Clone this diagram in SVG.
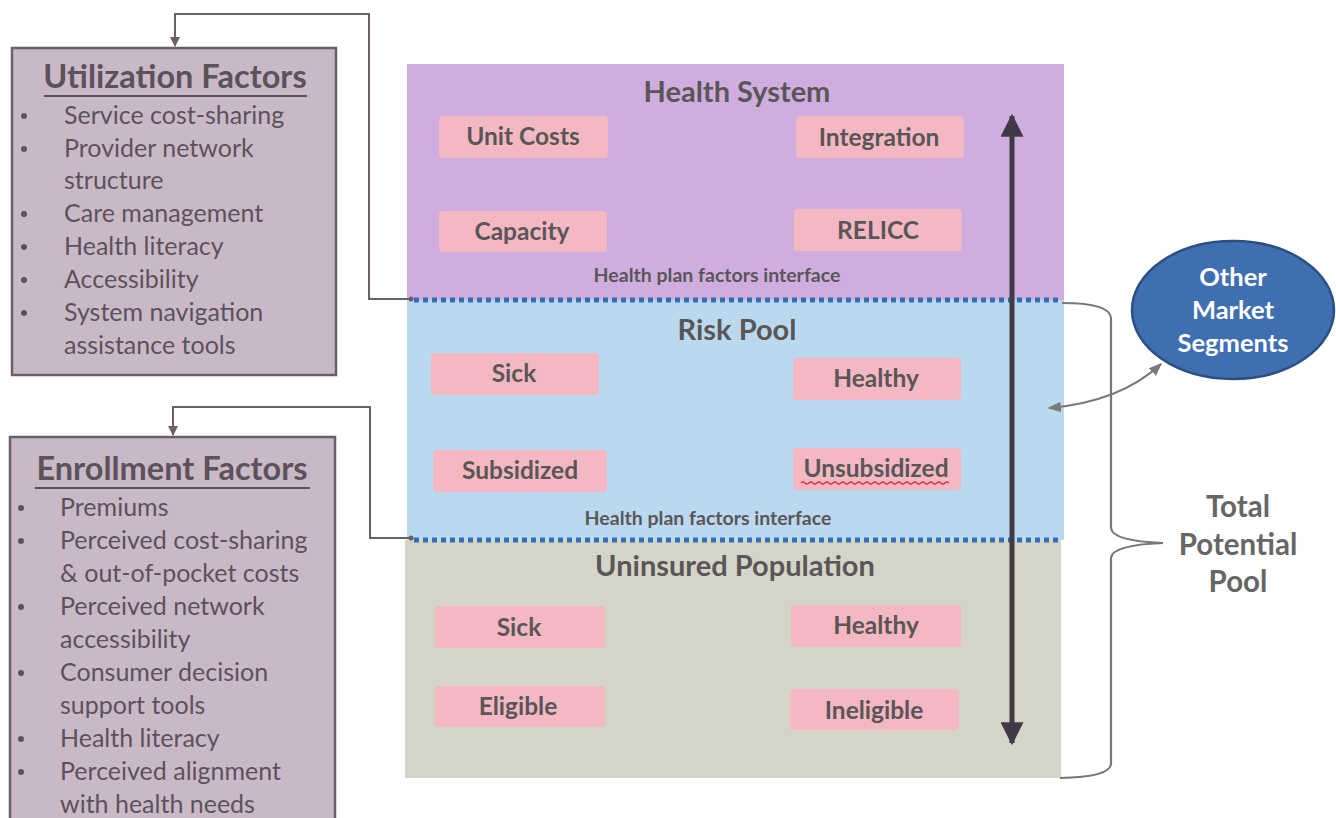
<svg xmlns="http://www.w3.org/2000/svg" width="1336" height="818" viewBox="0 0 1336 818">
<defs>
<style>
text{font-family:Lato,"Open Sans","Liberation Sans",sans-serif;}
.box{fill:#c9b9c7;stroke:#6b6068;stroke-width:2.5;}
.ttl{font-size:32.5px;font-weight:bold;fill:#5c525b;}
.itm{font-size:25px;fill:#5c525b;}
.bul{fill:#5c525b;}
.pnl-t{font-size:29px;font-weight:bold;fill:#5a5658;text-anchor:middle;}
.pk{fill:#f3b8c2;}
.pk-t{font-size:24.5px;font-weight:bold;fill:#5a5658;text-anchor:middle;}
.ifc{font-size:19.5px;font-weight:bold;fill:#5a5658;text-anchor:middle;}
.dot{stroke:#356db5;stroke-width:5;stroke-dasharray:5 4;fill:none;}
.conn{stroke:#6b6068;stroke-width:2;fill:none;}
.tot{font-size:29.5px;font-weight:bold;fill:#666;text-anchor:middle;}
.oms{font-size:25.5px;font-weight:bold;fill:#fff;text-anchor:middle;}
</style>
<marker id="ah" viewBox="0 0 10 10" refX="9" refY="5" markerWidth="5" markerHeight="5" orient="auto-start-reverse"><path d="M0,0 L10,5 L0,10 z" fill="#6b6068"/></marker>
<marker id="big" viewBox="0 0 10 10" refX="9" refY="5" markerWidth="5.2" markerHeight="4.6" orient="auto-start-reverse"><path d="M0,0 L10,5 L0,10 z" fill="#3f3a45"/></marker>
<marker id="ga" viewBox="0 0 10 10" refX="9" refY="5" markerWidth="6" markerHeight="6" orient="auto-start-reverse"><path d="M0,1 L10,5 L0,9 z" fill="#7a7a7a"/></marker>
</defs>

<g id="panels">
<rect x="407" y="64" width="657" height="236" fill="#cfaedf"/>
<rect x="407" y="300" width="657" height="240" fill="#bad9ef"/>
<rect x="405" y="540" width="656" height="238" fill="#d5d5c7"/>
</g>

<g id="health-system">
<text class="pnl-t" x="737" y="102">Health System</text>
</g>
<g id="unit-costs"><rect class="pk" x="439" y="116" width="169" height="42" rx="4"/><text class="pk-t" x="523" y="145">Unit Costs</text></g>
<g id="integration"><rect class="pk" x="796" y="116" width="168" height="42" rx="4"/><text class="pk-t" x="879" y="146">Integration</text></g>
<g id="capacity"><rect class="pk" x="439" y="211" width="168" height="41" rx="4"/><text class="pk-t" x="522" y="240">Capacity</text></g>
<g id="relicc"><rect class="pk" x="794" y="209" width="168" height="42" rx="4"/><text class="pk-t" x="878" y="239">RELICC</text></g>
<text class="ifc" x="717" y="282">Health plan factors interface</text>

<g id="risk-pool"><text class="pnl-t" x="737" y="340">Risk Pool</text></g>
<g id="rp-sick"><rect class="pk" x="431" y="353" width="168" height="42" rx="4"/><text class="pk-t" x="514" y="382">Sick</text></g>
<g id="rp-healthy"><rect class="pk" x="793" y="358" width="168" height="42" rx="4"/><text class="pk-t" x="876" y="387">Healthy</text></g>
<g id="subsidized"><rect class="pk" x="433" y="450" width="174" height="42" rx="4"/><text class="pk-t" x="520" y="479">Subsidized</text></g>
<g id="unsubsidized"><rect class="pk" x="793" y="448" width="168" height="42" rx="4"/><text class="pk-t" x="876" y="477">Unsubsidized</text><path d="M801,483 q2,-2 4,0 t4,0 t4,0 t4,0 t4,0 t4,0 t4,0 t4,0 t4,0 t4,0 t4,0 t4,0 t4,0 t4,0 t4,0 t4,0 t4,0 t4,0 t4,0 t4,0 t4,0 t4,0 t4,0 t4,0 t4,0 t4,0 t4,0 t4,0 t4,0 t4,0 t4,0 t4,0 t4,0 t4,0 t4,0 t4,0 t4,0" stroke="#d8343f" stroke-width="1.2" fill="none"/></g>
<text class="ifc" x="708" y="525">Health plan factors interface</text>

<g id="uninsured"><text class="pnl-t" x="735" y="576">Uninsured Population</text></g>
<g id="un-sick"><rect class="pk" x="435" y="606" width="170" height="42" rx="4"/><text class="pk-t" x="519" y="636">Sick</text></g>
<g id="un-healthy"><rect class="pk" x="791" y="605" width="170" height="42" rx="4"/><text class="pk-t" x="876" y="634">Healthy</text></g>
<g id="eligible"><rect class="pk" x="435" y="686" width="170" height="41" rx="4"/><text class="pk-t" x="518" y="715">Eligible</text></g>
<g id="ineligible"><rect class="pk" x="790" y="689" width="169" height="41" rx="4"/><text class="pk-t" x="874" y="719">Ineligible</text></g>

<g id="utilization-factors">
<rect class="box" x="12" y="48" width="324" height="327"/>
<text class="ttl" x="175" y="88" text-anchor="middle">Utilization Factors</text>
<line x1="44" y1="96" x2="307" y2="96" stroke="#5c525b" stroke-width="2"/>
<g class="bul"><circle cx="24" cy="116" r="3"/><circle cx="24" cy="149" r="3"/><circle cx="24" cy="214" r="3"/><circle cx="24" cy="247" r="3"/><circle cx="24" cy="280" r="3"/><circle cx="24" cy="313" r="3"/></g>
<text class="itm" x="64" y="124">Service cost-sharing</text>
<text class="itm" x="64" y="157">Provider network</text>
<text class="itm" x="64" y="189">structure</text>
<text class="itm" x="64" y="222">Care management</text>
<text class="itm" x="64" y="255">Health literacy</text>
<text class="itm" x="64" y="288">Accessibility</text>
<text class="itm" x="64" y="321">System navigation</text>
<text class="itm" x="64" y="354">assistance tools</text>
</g>

<g id="enrollment-factors">
<rect class="box" x="10" y="437" width="325" height="395"/>
<text class="ttl" x="172" y="480" text-anchor="middle">Enrollment Factors</text>
<line x1="35" y1="488" x2="310" y2="488" stroke="#5c525b" stroke-width="2"/>
<g class="bul"><circle cx="21" cy="508" r="3"/><circle cx="21" cy="541" r="3"/><circle cx="21" cy="607" r="3"/><circle cx="21" cy="673" r="3"/><circle cx="21" cy="739" r="3"/><circle cx="21" cy="772" r="3"/></g>
<text class="itm" x="60" y="516">Premiums</text>
<text class="itm" x="60" y="549">Perceived cost-sharing</text>
<text class="itm" x="60" y="582">&amp; out-of-pocket costs</text>
<text class="itm" x="60" y="615">Perceived network</text>
<text class="itm" x="60" y="648">accessibility</text>
<text class="itm" x="60" y="681">Consumer decision</text>
<text class="itm" x="60" y="714">support tools</text>
<text class="itm" x="60" y="747">Health literacy</text>
<text class="itm" x="60" y="780">Perceived alignment</text>
<text class="itm" x="60" y="813">with health needs</text>
</g>

<g id="other-market-segments">
<ellipse cx="1233" cy="310" rx="101" ry="69" fill="#3f6fb1" stroke="#2b4f82" stroke-width="2.5"/>
<text class="oms" x="1233" y="286">Other</text>
<text class="oms" x="1233" y="319">Market</text>
<text class="oms" x="1233" y="352">Segments</text>
</g>

<g id="total-potential-pool">
<text class="tot" x="1238" y="517">Total</text>
<text class="tot" x="1238" y="555">Potential</text>
<text class="tot" x="1238" y="592">Pool</text>
</g>

<g id="connectors">
<line class="dot" x1="414" y1="300" x2="1062" y2="300"/>
<line class="dot" x1="414" y1="540" x2="1062" y2="540"/>
<path class="conn" d="M412,299 H369 V14 H175 V46" marker-end="url(#ah)"/>
<circle cx="411" cy="299" r="2.5" fill="#6b6068"/>
<path class="conn" d="M412,538 H370 V407 H173 V435" marker-end="url(#ah)"/>
<circle cx="411" cy="538" r="2.5" fill="#6b6068"/>
<line x1="1012" y1="116" x2="1012" y2="743" stroke="#3f3a45" stroke-width="5" marker-start="url(#big)" marker-end="url(#big)"/>
<path d="M1049,408 Q1120,402 1161,364" stroke="#7a7a7a" stroke-width="2.2" fill="none" marker-start="url(#ga)" marker-end="url(#ga)"/>
<path d="M1062,303 Q1110,303 1111,318 V528 Q1112,541 1163,543 Q1112,545 1111,558 V764 Q1110,777 1060,778" stroke="#777" stroke-width="2.2" fill="none"/>
</g>
</svg>
